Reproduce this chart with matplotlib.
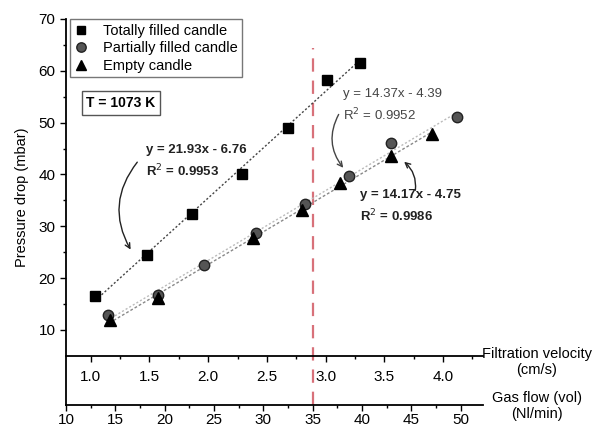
import matplotlib
matplotlib.use("Agg")
import matplotlib.pyplot as plt
from matplotlib.ticker import MultipleLocator
import numpy as np

plt.rcParams["font.family"] = ["Liberation Sans", "DejaVu Sans"]
plt.rcParams["font.size"] = 9

# filtration velocity (cm/s) and pressure drop (mbar)
v_full = [1.04, 1.48, 1.86, 2.29, 2.68, 3.01, 3.29]
p_full = [16.6, 24.5, 32.3, 40.1, 48.9, 58.2, 61.6]

v_part = [1.145, 1.57, 1.965, 2.405, 2.825, 3.20, 3.56, 4.12]
p_part = [12.8, 16.8, 22.5, 28.7, 34.3, 39.8, 46.0, 51.0]

v_empty = [1.16, 1.57, 2.38, 2.80, 3.12, 3.555, 3.91]
p_empty = [11.9, 16.1, 27.7, 33.2, 38.4, 43.6, 47.9]

fit_full = "y = 21.93x - 6.76\nR$^2$ = 0.9953"
fit_part = "y = 14.37x - 4.39\nR$^2$ = 0.9952"
fit_empty = "y = 14.17x - 4.75\nR$^2$ = 0.9986"

limit_flow = 35  # Nl/min, red dashed line

W, H = 597, 430
fig = plt.figure(figsize=(W / 100, H / 100), dpi=100)

def px(x, y):
    return x / W, 1 - y / H

# main axes: bottom spine is the gas flow axis (Nl/min)
ax = fig.add_axes([66 / W, 25 / H, 417 / W, 386 / H])
ax.set_xlim(10, 52.25)
ax.set_ylim(-4.47, 70)
for s in ["top", "right"]:
    ax.spines[s].set_visible(False)
ax.xaxis.set_major_locator(MultipleLocator(5))
ax.xaxis.set_minor_locator(MultipleLocator(2.5))
ax.set_yticks(np.arange(10, 71, 10))
ax.set_yticks(np.arange(15, 70, 10), minor=True)
ax.tick_params(which="major", length=4, width=1, labelsize=11)
ax.tick_params(which="minor", length=2.5, width=1)
ax.tick_params(axis="x", pad=1.5)
for s in ["left", "bottom"]:
    ax.spines[s].set_linewidth(1.3)

ax.axvline(limit_flow, ymin=0, ymax=(64.4 + 4.47) / 74.47,
           color="#d8717a", lw=1.6, ls=(0, (6, 4)), zorder=1)

# velocity axis
axv = ax.twiny()
axv.set_xlim(0.7896, 4.34)
axv.set_ylim(-4.47, 70)
for s in ["top", "left", "right"]:
    axv.spines[s].set_visible(False)
axv.spines["bottom"].set_position(("data", 5))
axv.spines["bottom"].set_linewidth(1.3)
axv.xaxis.set_ticks_position("bottom")
axv.xaxis.set_label_position("bottom")
axv.xaxis.set_major_locator(MultipleLocator(0.5))
axv.xaxis.set_minor_locator(MultipleLocator(0.25))
axv.xaxis.set_major_formatter(matplotlib.ticker.FormatStrFormatter("%.1f"))
axv.tick_params(which="major", length=4, width=1, labelsize=11, pad=6)
axv.tick_params(which="minor", length=2.5, width=1)

# fitted lines
for vx, py, c, ls in [(v_full, p_full, "#444444", (0, (1.5, 1.5))),
                      (v_part, p_part, "#bbbbbb", (0, (1.5, 1.5))),
                      (v_empty, p_empty, "#888888", (0, (2, 1.5)))]:
    k, b = np.polyfit(vx, py, 1)
    xs = np.array([min(vx), max(vx)])
    axv.plot(xs, k * xs + b, color=c, ls=ls, lw=1.0, zorder=2)

axv.plot(v_full, p_full, "s", color="black", ms=7, ls="none",
         label="Totally filled candle", zorder=4)
axv.plot(v_part, p_part, "o", color="#555555", mec="#222222", ms=7.5, ls="none",
         label="Partially filled candle", zorder=3)
axv.plot(v_empty, p_empty, "^", color="black", ms=8, ls="none",
         label="Empty candle", zorder=4)

leg = axv.legend(loc="upper left", bbox_to_anchor=(-0.009, 1.018), fontsize=10.5,
                 frameon=True, fancybox=False, edgecolor="#555555",
                 handletextpad=1.0, borderpad=0.3, labelspacing=0.25,
                 handlelength=1.0, markerscale=0.9)
leg.get_frame().set_linewidth(1.0)

fig.text(*px(121, 103), "T = 1073 K", ha="center", va="center", fontsize=10,
         fontweight="bold",
         bbox=dict(boxstyle="square,pad=0.35", fc="white", ec="#555555", lw=1))

# annotations
fig.text(*px(146, 162), fit_full, ha="left", va="center", fontsize=9.5,
         fontweight="bold", color="#222222", linespacing=1.5)
fig.text(*px(343, 106), fit_part, ha="left", va="center", fontsize=9.5,
         color="#444444", linespacing=1.5)
fig.text(*px(360, 207), fit_empty, ha="left", va="center", fontsize=9.5,
         fontweight="bold", color="#222222", linespacing=1.5)

arrow_kw = dict(arrowstyle="->", color="#222222", lw=1.0)
ax.annotate("", xy=px(132, 252), xytext=px(139, 160), xycoords="figure fraction",
            textcoords="figure fraction",
            arrowprops=dict(arrow_kw, connectionstyle="arc3,rad=0.35"))
ax.annotate("", xy=px(345, 170), xytext=px(340, 112), xycoords="figure fraction",
            textcoords="figure fraction",
            arrowprops=dict(arrow_kw, color="#444444", connectionstyle="arc3,rad=0.35"))
ax.annotate("", xy=px(402, 160), xytext=px(415, 193), xycoords="figure fraction",
            textcoords="figure fraction",
            arrowprops=dict(arrow_kw, connectionstyle="arc3,rad=0.3"))

# axis titles
fig.text(*px(22, 197), "Pressure drop (mbar)", rotation=90, ha="center",
         va="center", fontsize=10.5)
fig.text(*px(537, 362), "Filtration velocity\n(cm/s)", ha="center",
         va="center", fontsize=10.5, linespacing=1.2)
fig.text(*px(537, 406), "Gas flow (vol)\n(Nl/min)", ha="center",
         va="center", fontsize=10.5, linespacing=1.2)

fig.savefig("out.png", dpi=100)
